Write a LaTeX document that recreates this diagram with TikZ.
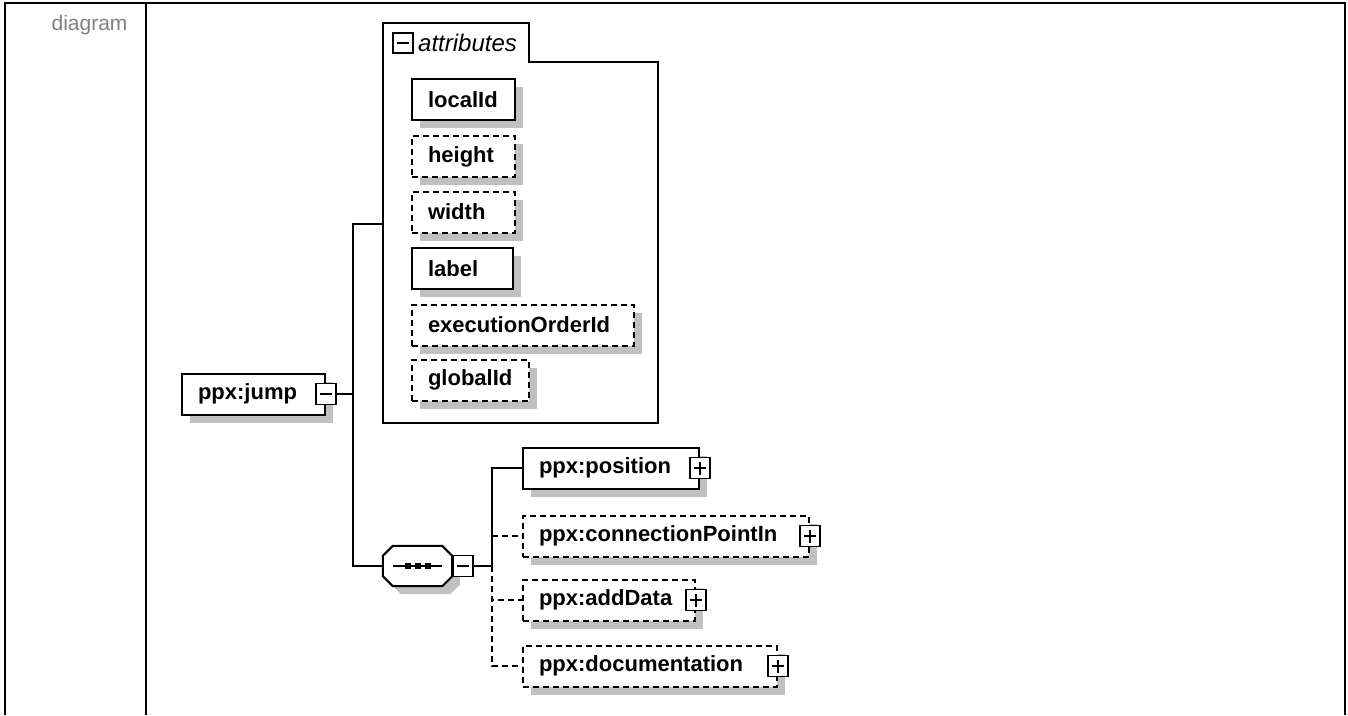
\documentclass[tikz,border=0pt]{standalone}
\usepackage{fontspec}
\setmainfont{Liberation Sans}
\usetikzlibrary{shadows}
\definecolor{shade}{RGB}{192,192,192}
\definecolor{capgray}{RGB}{128,128,128}
\tikzset{
  frame/.style={line width=2.5pt},
  wire/.style={line width=2pt},
  optwire/.style={wire,dash pattern=on 6pt off 4pt},
  shade box/.style={drop shadow={shadow xshift=8pt,shadow yshift=-8pt,fill=shade,opacity=1}},
  elem/.style={draw,fill=white,line width=2pt,inner xsep=16pt,inner ysep=0pt,
    minimum height=41pt,align=left,anchor=west,
    font=\bfseries\fontsize{22}{24}\selectfont,shade box},
  optelem/.style={elem,dash pattern=on 6pt off 4pt},
  seqbox/.style={minimum width=69pt,minimum height=40pt,inner sep=0pt},
  minusbox/.style={draw,solid,fill=white,line width=1.6pt,minimum width=20pt,
    minimum height=21pt,inner sep=0pt,
    path picture={\draw[line width=1.6pt]
      ([xshift=4pt]path picture bounding box.west) -- ([xshift=-4pt]path picture bounding box.east);}},
  plusbox/.style={draw,solid,fill=white,line width=1.6pt,minimum width=20pt,
    minimum height=21pt,inner sep=0pt,
    path picture={\draw[line width=1.6pt]
      ([xshift=4pt]path picture bounding box.west) -- ([xshift=-4pt]path picture bounding box.east)
      ([yshift=-4pt]path picture bounding box.north) -- ([yshift=4pt]path picture bounding box.south);}},
  captext/.style={capgray,font=\fontsize{21}{24}\selectfont},
  grouptitle/.style={anchor=west,inner sep=0pt,font=\itshape\fontsize{24}{26}\selectfont}
}

\begin{document}
\begin{tikzpicture}[x=1pt,y=-1pt]
  \useasboundingbox (0,0) rectangle (1348,715);
  \draw[frame] (5,715) -- (5,3) -- (1345,3) -- (1345,715);
  \draw[frame] (146,3) -- (146,715);
  \node[captext,anchor=base east] (cap) at (131,30) {diagram};

  % attribute group
  \draw[wire] (383,423) -- (383,23) -- (529,23) -- (529,62) -- (658,62) -- (658,423) -- cycle;
  \node[minusbox,minimum height=20pt] (attr-x) at (403,43) {};
  \node[grouptitle] (attr-title) at (418,43) {attributes};
  \coordinate (attr) at (383,224);
  \node[elem,text width=71pt] (localId) at (411,99.5) {localId};
  \node[optelem,text width=71pt] (height) at (411,156.5) {height};
  \node[optelem,text width=71pt] (width) at (411,212) {width};
  \node[elem,text width=69pt] (label) at (411,268.5) {label};
  \node[optelem,text width=190pt] (execOrder) at (411,325) {executionOrderId};
  \node[optelem,text width=85pt] (globalId) at (411,380) {globalId};

  % element and sequence
  \node[elem,text width=111pt] (jump) at (181,394) {ppx:jump};
  \node[minusbox] (jump-x) at (jump.east) {};
  \node[seqbox] (seq) at (417.5,566) {};
  \draw[wire,fill=white,shade box]
    ([xshift=10pt]seq.north west) -- ([xshift=-10pt]seq.north east)
    -- ([yshift=-10pt]seq.north east) -- ([yshift=10pt]seq.south east)
    -- ([xshift=-10pt]seq.south east) -- ([xshift=10pt]seq.south west)
    -- ([yshift=10pt]seq.south west) -- ([yshift=-10pt]seq.north west) -- cycle;
  \draw[wire] ([xshift=10pt]seq.west) -- ([xshift=-10pt]seq.east);
  \foreach \dx in {-10,0,10}
    \fill ([xshift=\dx pt]seq.center) ++(-3,-3) rectangle ++(6,6);
  \node[minusbox,anchor=west] (seq-x) at (seq.east) {};
  \coordinate (split) at (353,394);
  \coordinate (branch) at (492,566);
  \draw[wire] (jump-x) -- (split);
  \draw[wire] (attr) -| (split) |- (seq.west);
  \draw[wire] (seq-x) -- (branch);

  % children
  \node[elem,text width=144pt] (position) at (522,468) {ppx:position};
  \node[optelem,text width=254pt] (connIn) at (522,536) {ppx:connectionPointIn};
  \node[optelem,text width=140pt] (addData) at (522,600) {ppx:addData};
  \node[optelem,text width=222pt] (doc) at (522,666) {ppx:documentation};
  \foreach \n in {position,connIn,addData,doc}
    \node[plusbox] (\n-x) at (\n.east) {};
  \draw[optwire] (branch) |- (connIn.west);
  \draw[optwire] (branch) |- (addData.west);
  \draw[optwire] (branch) |- (doc.west);
  \draw[wire] (branch) |- (position.west);
\end{tikzpicture}
\end{document}
